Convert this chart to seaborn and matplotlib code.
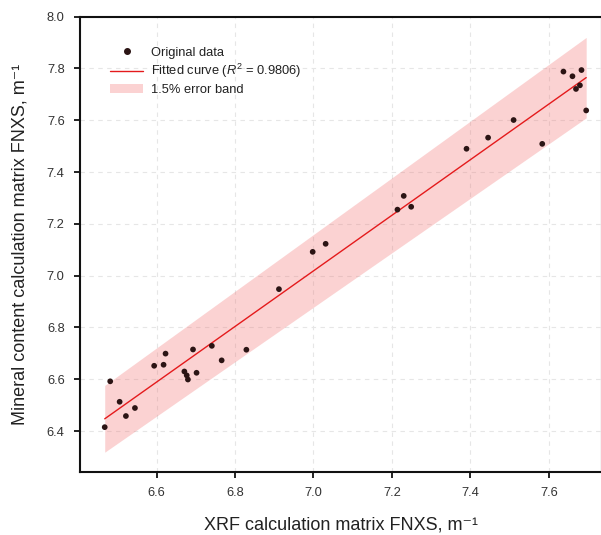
import numpy as np
import pandas as pd
import matplotlib
matplotlib.use("Agg")
import matplotlib.pyplot as plt
import seaborn as sns
from matplotlib.lines import Line2D
from matplotlib.patches import Patch

# ---- data ----
xrf_fnxs = [6.468, 6.482, 6.506, 6.522, 6.545, 6.594, 6.618, 6.623, 6.671, 6.677,
            6.680, 6.693, 6.702, 6.741, 6.766, 6.829, 6.912, 6.998, 7.031, 7.214,
            7.230, 7.249, 7.390, 7.445, 7.510, 7.583, 7.637, 7.660, 7.669, 7.679,
            7.683, 7.695]
mineral_fnxs = [6.415, 6.592, 6.513, 6.458, 6.489, 6.652, 6.656, 6.699, 6.630, 6.615,
                6.599, 6.715, 6.625, 6.729, 6.673, 6.714, 6.948, 7.092, 7.123, 7.255,
                7.308, 7.266, 7.490, 7.533, 7.601, 7.509, 7.788, 7.770, 7.721, 7.735,
                7.794, 7.638]
r2_text = "0.9806"
band_label = "1.5% error band"
band_frac = 0.020  # visual half-width of the band relative to the fit

x_ticks = [6.6, 6.8, 7.0, 7.2, 7.4, 7.6]
y_ticks = [6.4, 6.6, 6.8, 7.0, 7.2, 7.4, 7.6, 7.8, 8.0]

df = pd.DataFrame({"x": xrf_fnxs, "y": mineral_fnxs})

sns.set_theme(style="white")
plt.rcParams["font.family"] = ["Liberation Sans", "DejaVu Sans"]
plt.rcParams["mathtext.fontset"] = "custom"
plt.rcParams["mathtext.rm"] = "Liberation Sans"
plt.rcParams["mathtext.it"] = "Liberation Sans:italic"

W, H = 601, 535
ax_l, ax_r, ax_t, ax_b = 80, 601.5, 16.7, 471.7
fig = plt.figure(figsize=(W / 100, H / 100), dpi=100)
ax = fig.add_axes([ax_l / W, (H - ax_b) / H, (ax_r - ax_l) / W, (ax_b - ax_t) / H])

# fit
coef = np.polyfit(df["x"], df["y"], 1)
xs = np.linspace(df["x"].min(), df["x"].max(), 200)
ys = np.polyval(coef, xs)

ax.fill_between(xs, ys * (1 - band_frac), ys * (1 + band_frac),
                color="#f26d6d", alpha=0.3, linewidth=0, zorder=1)
sns.lineplot(x=xs, y=ys, ax=ax, color="#e41a1c", linewidth=1.0, zorder=2)
sns.scatterplot(data=df, x="x", y="y", ax=ax, color="#2b1414", s=17,
                edgecolor="none", zorder=3)

ax.set_xlim(6.405, 7.734)
ax.set_ylim(6.243, 8.0)
ax.set_xticks(x_ticks)
ax.set_yticks(y_ticks)
ax.set_xticklabels([f"{t:.1f}" for t in x_ticks])
ax.set_yticklabels([f"{t:.1f}" for t in y_ticks])

ax.grid(True, linestyle=(0, (4, 4)), color="#e6e6e6", linewidth=0.8, zorder=0)
ax.set_axisbelow(True)
for s in ax.spines.values():
    s.set_color("#111111")
    s.set_linewidth(1.5)
ax.tick_params(axis="both", which="major", direction="out", length=4.5, width=1.3,
               color="#111111", labelsize=9.3, labelcolor="#333333", pad=6.5,
               bottom=True, left=True)

ax.set_xlabel("XRF calculation matrix FNXS, m\u207b\u00b9", fontsize=13,
              color="#222222")
ax.set_ylabel("Mineral content calculation matrix FNXS, m\u207b\u00b9", fontsize=13,
              color="#222222")
ax.xaxis.set_label_coords(0.5, -(525 - ax_b) / (ax_b - ax_t))
ax.yaxis.set_label_coords(-(ax_l - 20) / (ax_r - ax_l), 0.5)
ax.xaxis.label.set_verticalalignment("center")
ax.yaxis.label.set_verticalalignment("center")

handles = [
    Line2D([], [], marker="o", linestyle="none", color="#2b1414", markersize=4),
    Line2D([], [], color="#e41a1c", linewidth=1.0),
    Patch(facecolor="#f26d6d", alpha=0.3, edgecolor="none"),
]
labels = ["Original data", f"Fitted curve ($R^2$ = {r2_text})", band_label]
ax.legend(handles, labels, loc="upper left", bbox_to_anchor=(0.035, 0.96),
          frameon=False, fontsize=9.3, handlelength=2.6, handletextpad=0.6,
          labelspacing=0.28, labelcolor="#222222")

fig.savefig("out.png", dpi=100)
